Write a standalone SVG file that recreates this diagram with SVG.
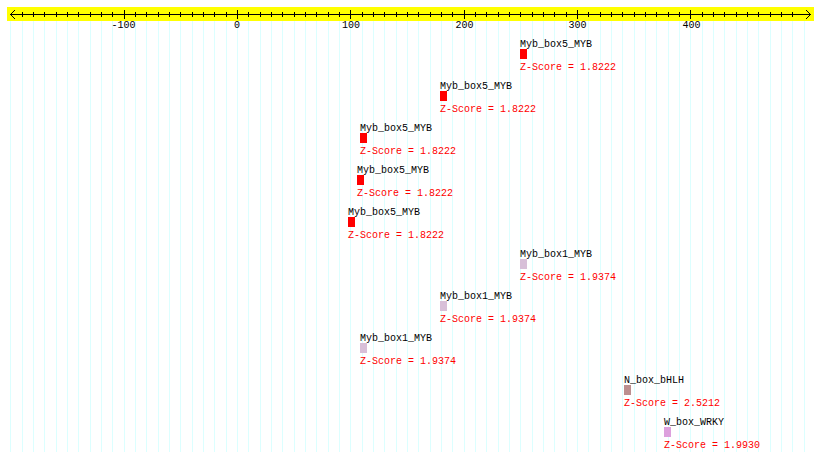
<svg xmlns="http://www.w3.org/2000/svg" width="820" height="461" viewBox="0 0 820 461">
<style>
text{font-family:"Liberation Mono","DejaVu Sans Mono",monospace;font-size:10px}
.lbl{fill:#000}
.z{fill:#ff0000}
.ax{fill:#000;text-anchor:middle}
.grid{stroke:#dcffff;stroke-width:1;fill:none}
.axis{stroke:#000;stroke-width:1;fill:none}
</style>
<rect x="0" y="0" width="820" height="461" fill="#ffffff"/>
<g id="grid" shape-rendering="crispEdges">
<path class="grid" d="M10.66 21V452M22 21V452M33.33 21V452M44.67 21V452M56.01 21V452M67.35 21V452M78.68 21V452M90.02 21V452M101.36 21V452M112.69 21V452M124.03 21V452M135.37 21V452M146.7 21V452M158.04 21V452M169.38 21V452M180.72 21V452M192.05 21V452M203.39 21V452M214.73 21V452M226.06 21V452M237.4 21V452M248.74 21V452M260.07 21V452M271.41 21V452M282.75 21V452M294.09 21V452M305.42 21V452M316.76 21V452M328.1 21V452M339.43 21V452M350.77 21V452M362.11 21V452M373.44 21V452M384.78 21V452M396.12 21V452M407.46 21V452M418.79 21V452M430.13 21V452M441.47 21V452M452.8 21V452M464.14 21V452M475.48 21V452M486.81 21V452M498.15 21V452M509.49 21V452M520.83 21V452M532.16 21V452M543.5 21V452M554.84 21V452M566.17 21V452M577.51 21V452M588.85 21V452M600.18 21V452M611.52 21V452M622.86 21V452M634.2 21V452M645.53 21V452M656.87 21V452M668.21 21V452M679.54 21V452M690.88 21V452M702.22 21V452M713.55 21V452M724.89 21V452M736.23 21V452M747.57 21V452M758.9 21V452M770.24 21V452M781.58 21V452M792.91 21V452M804.25 21V452"/>
</g>
<g id="ruler">
<rect x="7" y="7" width="807" height="14" fill="#ffff00"/>
<g shape-rendering="crispEdges">
<path class="axis" d="M10 14.5H811"/>
<path class="axis" d="M22 12V17M33.33 12V17M44.67 12V17M56.01 12V17M67.35 12V17M78.68 12V17M90.02 12V17M101.36 12V17M112.69 12V17M135.37 12V17M146.7 12V17M158.04 12V17M169.38 12V17M180.72 12V17M192.05 12V17M203.39 12V17M214.73 12V17M226.06 12V17M248.74 12V17M260.07 12V17M271.41 12V17M282.75 12V17M294.09 12V17M305.42 12V17M316.76 12V17M328.1 12V17M339.43 12V17M362.11 12V17M373.44 12V17M384.78 12V17M396.12 12V17M407.46 12V17M418.79 12V17M430.13 12V17M441.47 12V17M452.8 12V17M475.48 12V17M486.81 12V17M498.15 12V17M509.49 12V17M520.83 12V17M532.16 12V17M543.5 12V17M554.84 12V17M566.17 12V17M588.85 12V17M600.18 12V17M611.52 12V17M622.86 12V17M634.2 12V17M645.53 12V17M656.87 12V17M668.21 12V17M679.54 12V17M702.22 12V17M713.55 12V17M724.89 12V17M736.23 12V17M747.57 12V17M758.9 12V17M770.24 12V17M781.58 12V17M792.91 12V17"/>
<path class="axis" d="M124.03 10V19M237.4 10V19M350.77 10V19M464.14 10V19M577.51 10V19M690.88 10V19"/>
</g>
<path class="axis" d="M15 10L10.5 14.5L15 19M806 10L810.5 14.5L806 19"/>
<text class="ax" x="123.5" y="28">-100</text>
<text class="ax" x="237" y="28">0</text>
<text class="ax" x="351" y="28">100</text>
<text class="ax" x="464.5" y="28">200</text>
<text class="ax" x="577.5" y="28">300</text>
<text class="ax" x="691.5" y="28">400</text>
</g>
<g id="m1"><text class="lbl" x="520" y="47">Myb_box5_MYB</text><rect x="520" y="49" width="7" height="10" fill="#ff0000"/><text class="z" x="520" y="70">Z-Score = 1.8222</text></g>
<g id="m2"><text class="lbl" x="440" y="89">Myb_box5_MYB</text><rect x="440" y="91" width="7" height="10" fill="#ff0000"/><text class="z" x="440" y="112">Z-Score = 1.8222</text></g>
<g id="m3"><text class="lbl" x="360" y="131">Myb_box5_MYB</text><rect x="360" y="133" width="7" height="10" fill="#ff0000"/><text class="z" x="360" y="154">Z-Score = 1.8222</text></g>
<g id="m4"><text class="lbl" x="357" y="173">Myb_box5_MYB</text><rect x="357" y="175" width="7" height="10" fill="#ff0000"/><text class="z" x="357" y="196">Z-Score = 1.8222</text></g>
<g id="m5"><text class="lbl" x="348" y="215">Myb_box5_MYB</text><rect x="348" y="217" width="7" height="10" fill="#ff0000"/><text class="z" x="348" y="238">Z-Score = 1.8222</text></g>
<g id="m6"><text class="lbl" x="520" y="257">Myb_box1_MYB</text><rect x="520" y="259" width="7" height="10" fill="#d8bfd8"/><text class="z" x="520" y="280">Z-Score = 1.9374</text></g>
<g id="m7"><text class="lbl" x="440" y="299">Myb_box1_MYB</text><rect x="440" y="301" width="7" height="10" fill="#d8bfd8"/><text class="z" x="440" y="322">Z-Score = 1.9374</text></g>
<g id="m8"><text class="lbl" x="360" y="341">Myb_box1_MYB</text><rect x="360" y="343" width="7" height="10" fill="#d8bfd8"/><text class="z" x="360" y="364">Z-Score = 1.9374</text></g>
<g id="m9"><text class="lbl" x="624" y="383">N_box_bHLH</text><rect x="624" y="385" width="7" height="10" fill="#bc8f8f"/><text class="z" x="624" y="406">Z-Score = 2.5212</text></g>
<g id="m10"><text class="lbl" x="664" y="425">W_box_WRKY</text><rect x="664" y="427" width="7" height="10" fill="#dda0dd"/><text class="z" x="664" y="448">Z-Score = 1.9930</text></g>
</svg>
